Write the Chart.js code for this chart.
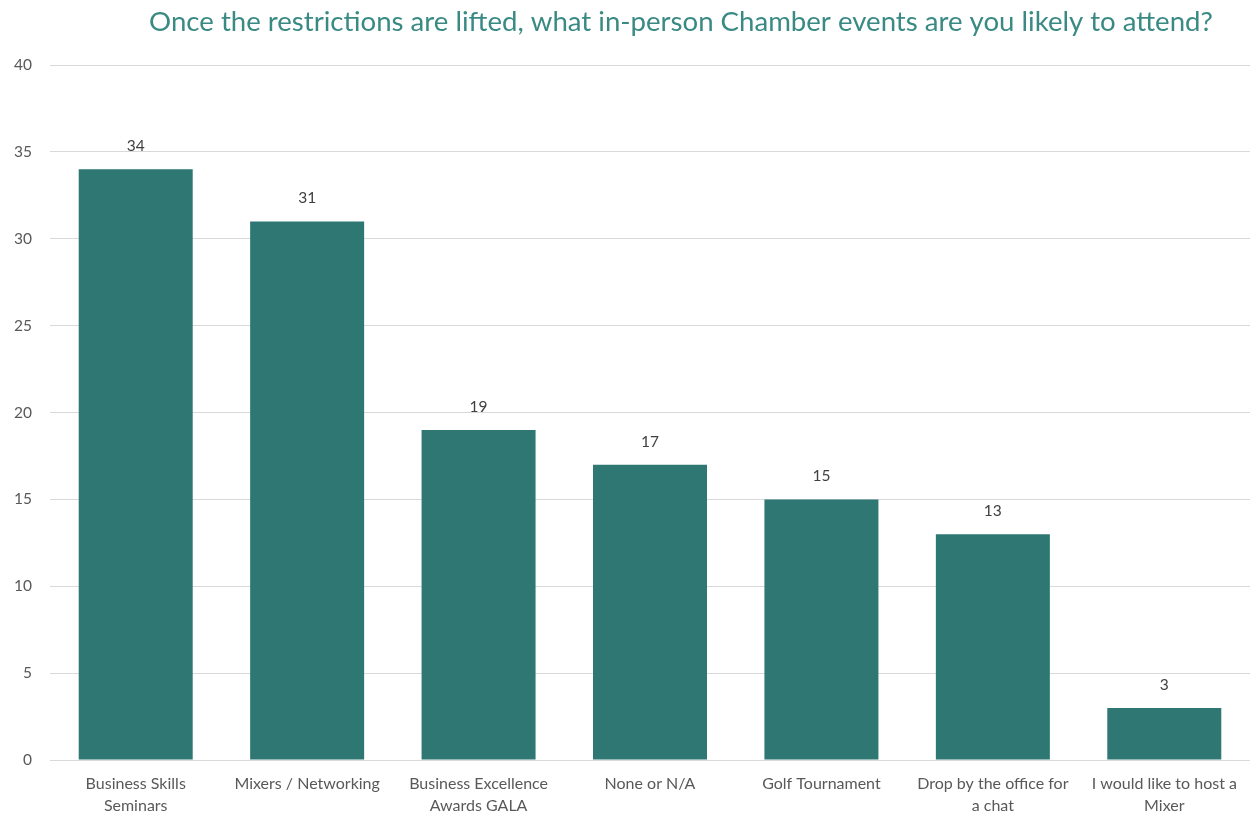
<!DOCTYPE html>
<html>
<head>
<meta charset="utf-8">
<script src="https://cdn.jsdelivr.net/npm/chart.js@4"></script>
<style>
  html, body { margin: 0; padding: 0; background: #fff; }
  #wrap { width: 1255px; height: 815px; }
</style>
</head>
<body>
<div id="wrap"><canvas id="eventsChart" width="1255" height="815"></canvas></div>
<script>
// --- Survey data ---
const chartTitle = 'Once the restrictions are lifted, what in-person Chamber events are you likely to attend?';
const eventLabels = [
    ['Business Skills', 'Seminars'],
    ['Mixers / Networking'],
    ['Business Excellence', 'Awards GALA'],
    ['None or N/A'],
    ['Golf Tournament'],
    ['Drop by the office for', 'a chat'],
    ['I would like to host a', 'Mixer']
];
const responseCounts = [34, 31, 19, 17, 15, 13, 3];
const yTicks = [0, 5, 10, 15, 20, 25, 30, 35, 40];

const TEAL = '#2E7773';
const GREY_TEXT = '#595959';
const FONT = 'Lato, "Open Sans", sans-serif';

// Title drawn by hand so it can sit off-centre like the original layout
const titlePlugin = {
    id: 'customTitle',
    afterDraw(chart) {
        const ctx = chart.ctx;
        ctx.save();
        ctx.font = '27.6px ' + FONT;
        ctx.fillStyle = '#3A8A84';
        ctx.textAlign = 'center';
        ctx.textBaseline = 'middle';
        ctx.fillText(chartTitle, 681, 22);
        ctx.restore();
    }
};

// Value labels above each bar
const valueLabels = {
    id: 'valueLabels',
    afterDatasetsDraw(chart) {
        const ctx = chart.ctx;
        const meta = chart.getDatasetMeta(0);
        ctx.save();
        ctx.font = '15.5px ' + FONT;
        ctx.fillStyle = '#404040';
        ctx.textAlign = 'center';
        ctx.textBaseline = 'middle';
        meta.data.forEach((bar, i) => {
            ctx.fillText(responseCounts[i], bar.x, bar.y - 23);
        });
        ctx.restore();
    }
};

new Chart(document.getElementById('eventsChart').getContext('2d'), {
    type: 'bar',
    data: {
        labels: eventLabels,
        datasets: [{
            data: responseCounts,
            backgroundColor: TEAL,
            borderWidth: 0,
            categoryPercentage: 1.0,
            barPercentage: 0.665
        }]
    },
    options: {
        responsive: false,
        animation: false,
        layout: { padding: { top: 65, right: 5, left: 0, bottom: 0 } },
        plugins: {
            legend: { display: false },
            tooltip: { enabled: false },
            title: { display: false }
        },
        scales: {
            x: {
                afterFit(axis) { axis.height = 55; },
                grid: { display: false, drawTicks: false },
                border: { display: false },
                ticks: {
                    color: GREY_TEXT,
                    font: { family: FONT, size: 16, lineHeight: 1.375 },
                    maxRotation: 0,
                    autoSkip: false,
                    padding: 13
                }
            },
            y: {
                min: 0,
                max: 40,
                afterBuildTicks(axis) {
                    axis.ticks = yTicks.map(v => ({ value: v }));
                },
                afterFit(axis) { axis.width = 50; },
                grid: { color: '#D9D9D9', lineWidth: 1, drawTicks: false },
                border: { display: false },
                ticks: {
                    color: GREY_TEXT,
                    font: { family: FONT, size: 15.5 },
                    padding: 18
                }
            }
        }
    },
    plugins: [titlePlugin, valueLabels]
});
</script>
</body>
</html>
